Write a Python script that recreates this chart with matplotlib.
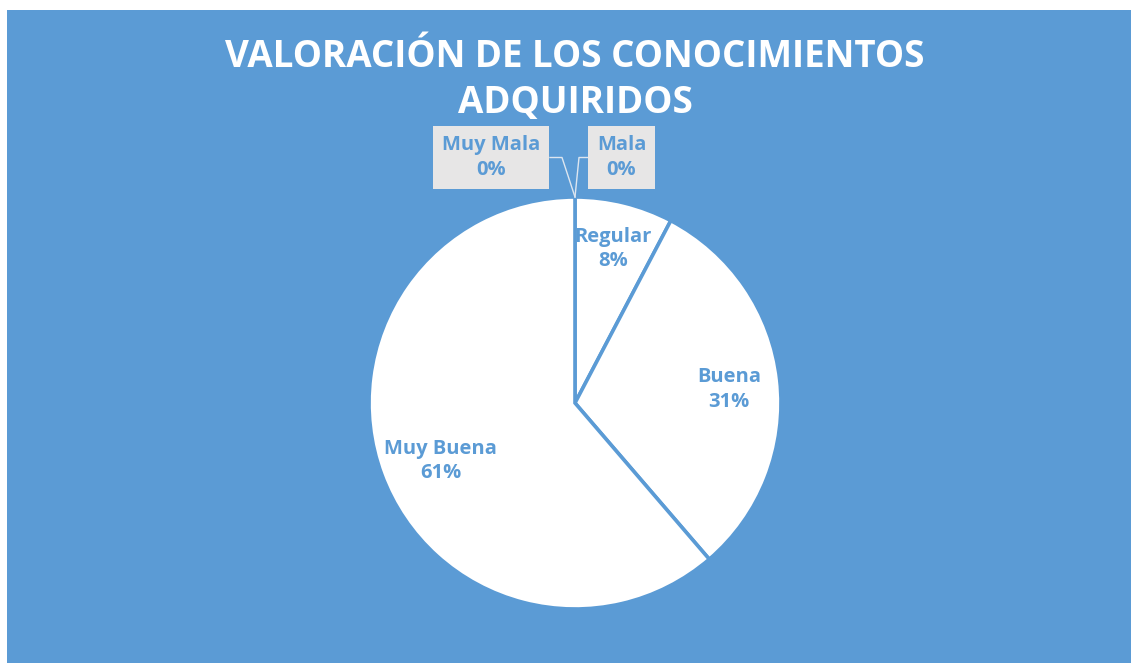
import numpy as np
import matplotlib
matplotlib.use("Agg")
import matplotlib.pyplot as plt
from matplotlib.patches import Rectangle

categories = ["Muy Mala", "Mala", "Regular", "Buena", "Muy Buena"]
values = [0, 0, 7.7, 31.0, 61.3]
title = "VALORACIÓN DE LOS CONOCIMIENTOS\nADQUIRIDOS"

BLUE = "#5B9BD5"
W, H = 1131, 663
fig = plt.figure(figsize=(W / 100, H / 100), dpi=100, facecolor="white")
ax = fig.add_axes([0, 0, 1, 1])
ax.set_xlim(0, W)
ax.set_ylim(0, H)
ax.set_aspect("equal")
ax.axis("off")

ax.add_patch(Rectangle((7, 0), W - 7, H - 10, facecolor=BLUE, edgecolor="none", zorder=0))

cx, cy, R = 575, H - 403, 206
wedges, _ = ax.pie(values, startangle=90, counterclock=False, center=(cx, cy), radius=R,
                   colors=["white"] * len(values),
                   wedgeprops=dict(edgecolor=BLUE, linewidth=2.6, antialiased=True),
                   frame=True)
ax.set_xlim(0, W)
ax.set_ylim(0, H)
ax.axis("off")

total = sum(values)
font = "Open Sans"
FS = 14.5
dist = {"Regular": 0.77, "Buena": 0.75, "Muy Buena": 0.71}
adj = {"Regular": 0.0, "Buena": -1.5, "Muy Buena": 3.0}
for w, cat, v in zip(wedges, categories, values):
    pct = f"{round(100 * v / total)}%"
    if v > 0:
        ang = np.deg2rad((w.theta1 + w.theta2) / 2 + adj[cat])
        x = cx + dist[cat] * R * np.cos(ang)
        y = cy + dist[cat] * R * np.sin(ang)
        ax.text(x, y, f"{cat}\n{pct}", ha="center", va="center", color=BLUE,
                fontsize=FS, fontweight="bold", family=font, linespacing=1.3)

# zero-value labels with leader lines
ang0 = np.deg2rad(wedges[0].theta1)
px, py = cx + R * np.cos(ang0), cy + R * np.sin(ang0)
boxes = {"Muy Mala": (491, H - 157.5, 562, 550), "Mala": (621.5, H - 157.5, 579, 588)}
for cat, v in zip(categories[:2], values[:2]):
    bx, by, ex, edge = boxes[cat]
    ax.plot([edge, ex, px], [by, by, py], color="#DDE6F0", lw=1.0, zorder=3)
    ax.text(bx, by, f"{cat}\n{round(100 * v / total)}%", ha="center", va="center",
            color=BLUE, fontsize=FS, fontweight="bold", family=font, linespacing=1.3,
            zorder=4,
            bbox=dict(boxstyle="square,pad=0.45", facecolor="#E7E6E6", edgecolor="none"))

ax.text(575, H - 80, title, ha="center", va="center", color="white", fontsize=26.5,
        fontweight="bold", family=font, linespacing=1.25)

fig.savefig("out.png", dpi=100, facecolor="white")
